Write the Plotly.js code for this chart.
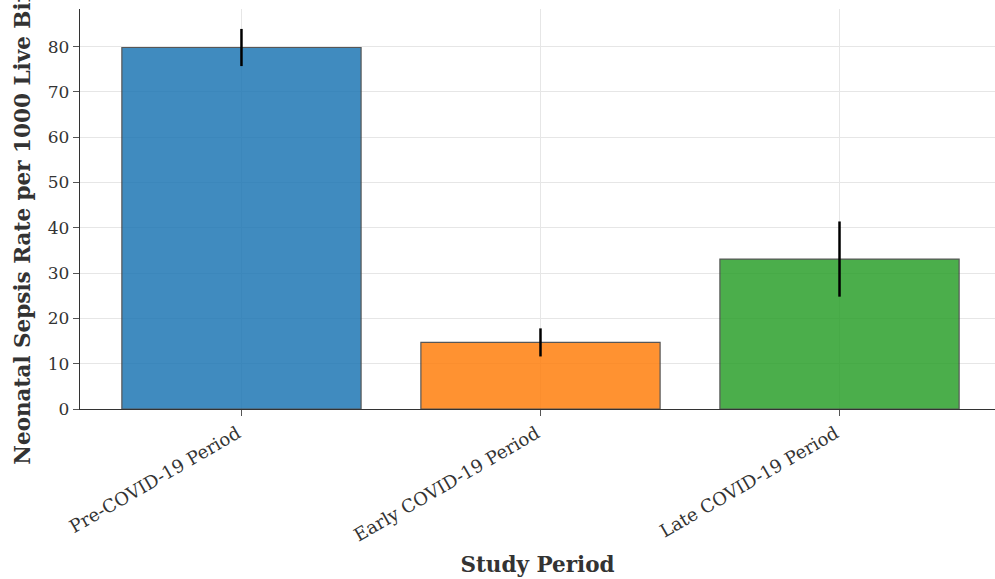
<!DOCTYPE html>
<html>
<head>
<meta charset="utf-8">
<script src="https://cdn.plot.ly/plotly-3.0.1.min.js"></script>
<style>html,body{margin:0;padding:0;background:#fff;}#chart{width:995px;height:579px;}</style>
</head>
<body>
<div id="chart"></div>
<script>
const periods = ["Pre-COVID-19 Period", "Early COVID-19 Period", "Late COVID-19 Period"];
const rates = [79.8, 14.7, 33.1];
const errors = [4.1, 3.1, 8.3];
const colors = ["#1f77b4", "#ff7f0e", "#2ca02c"];

const trace = {
  type: "bar",
  x: periods,
  y: rates,
  width: 0.8,
  marker: {color: colors, opacity: 0.85, line: {color: "#3a3a3a", width: 1.2}},
  error_y: {type: "data", array: errors, visible: true, color: "#000", thickness: 2.5, width: 0},
  hoverinfo: "skip"
};

const font = "DejaVu Serif, serif";
const layout = {
  width: 995, height: 579,
  margin: {l: 80, r: 0, t: 9, b: 170},
  paper_bgcolor: "#fff", plot_bgcolor: "#fff",
  showlegend: false,
  font: {family: font, size: 17, color: "#333"},
  bargap: 0.2,
  xaxis: {
    type: "category",
    range: [-0.54, 2.52],
    tickangle: -30,
    ticklabelshift: -4,
    ticks: "outside", ticklen: 6, tickwidth: 1, tickcolor: "#555",
    showline: true, linecolor: "#333", linewidth: 1.2,
    showgrid: true, gridcolor: "#e6e6e6", gridwidth: 1,
    tickfont: {family: font, size: 18, color: "#333"},
    title: {text: "Study Period", font: {family: font, size: 21.5, color: "#333", weight: "bold"}, standoff: 12},
    automargin: false
  },
  yaxis: {
    range: [0, 88.3],
    tickvals: [0, 10, 20, 30, 40, 50, 60, 70, 80],
    ticks: "outside", ticklen: 6, tickwidth: 1, tickcolor: "#555",
    showline: true, linecolor: "#333", linewidth: 1.2,
    showgrid: true, gridcolor: "#e6e6e6", gridwidth: 1,
    zeroline: false,
    tickfont: {family: font, size: 17, color: "#333"},
    title: {text: "Neonatal Sepsis Rate per 1000 Live Births", font: {family: font, size: 21.5, color: "#333", weight: "bold"}, standoff: 11},
    automargin: false
  }
};

Plotly.newPlot("chart", [trace], layout, {displayModeBar: false, staticPlot: true});
</script>
</body>
</html>
